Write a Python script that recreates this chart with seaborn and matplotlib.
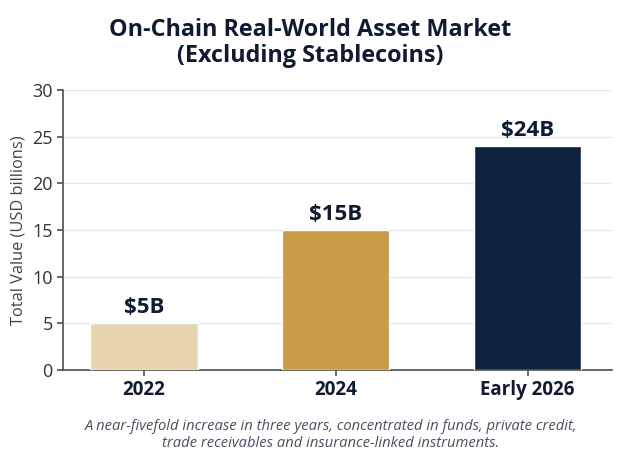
import matplotlib
matplotlib.use("Agg")
import matplotlib.pyplot as plt
import seaborn as sns
import pandas as pd

# data
periodos = ["2022", "2024", "Early 2026"]
valores = [5, 15, 24]
etiquetas = ["$5B", "$15B", "$24B"]
colores = ["#E6D5AE", "#C89B44", "#0F2341"]

sns.set_theme(style="white")
plt.rcParams["font.family"] = ["Open Sans", "DejaVu Sans"]

df = pd.DataFrame({"Periodo": periodos, "Valor": valores})

fig = plt.figure(figsize=(6.2, 4.72), dpi=100)
ax = fig.add_axes([0.102, 0.216, 0.885, 0.593])

sns.barplot(data=df, x="Periodo", y="Valor", hue="Periodo", palette=colores,
            width=0.56, legend=False, ax=ax, zorder=3, saturation=1)

for i, (v, t) in enumerate(zip(valores, etiquetas)):
    ax.text(i, v + 0.6, t, ha="center", va="bottom", fontsize=16,
            fontweight="bold", color="#0F1B33")

ax.set_ylim(0, 30)
ax.set_xlim(-0.42, 2.44)
ax.set_yticks(range(0, 31, 5))
ax.yaxis.grid(True, color="#E3E6EE", linewidth=1, zorder=0)
ax.set_xlabel("")
ax.set_ylabel("Total Value (USD billions)", fontsize=11.8, color="#444444")
ax.tick_params(axis="y", labelsize=13, colors="#333333", left=True, length=4, color="#555555")
ax.tick_params(axis="x", labelsize=13.5, bottom=True, length=4, color="#555555")
for lbl in ax.get_xticklabels():
    lbl.set_fontweight("bold")
    lbl.set_color("#0F1B33")
sns.despine(ax=ax)
ax.spines["left"].set_color("#555555")
ax.spines["bottom"].set_color("#555555")

fig.text(0.5, 0.909, "On-Chain Real-World Asset Market\n(Excluding Stablecoins)",
         ha="center", va="center", fontsize=16.8, fontweight="bold",
         color="#0F1B33", linespacing=1.15)
fig.text(0.534, 0.078, "A near-fivefold increase in three years, concentrated in funds, private credit,\n"
         "trade receivables and insurance-linked instruments.",
         ha="center", va="center", fontsize=10.6, style="italic", color="#4A4F5C")

fig.savefig("out.png", dpi=100)
